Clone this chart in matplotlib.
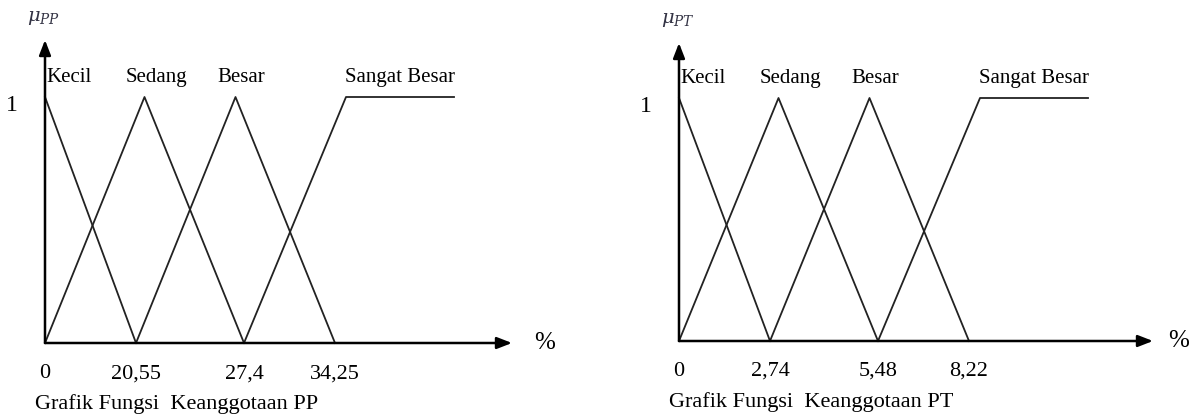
import matplotlib.pyplot as plt

plt.rcParams['font.family'] = ['Liberation Serif', 'DejaVu Serif']
plt.rcParams['mathtext.fontset'] = 'dejavuserif'

# schematic x positions of the tick marks (not to scale with the values)
tick_pos = [0.0, 0.91, 1.99, 2.90]
tick_pp = ["0", "20,55", "27,4", "34,25"]
tick_pt = ["0", "2,74", "5,48", "8,22"]

categories = ["Kecil", "Sedang", "Besar", "Sangat Besar"]

# membership break points (x position, degree)
kecil_x = [0.0, 0.91]
kecil_y = [1, 0]
sedang_x = [0.0, 0.995, 1.99]
sedang_y = [0, 1, 0]
besar_x = [0.91, 1.905, 2.90]
besar_y = [0, 1, 0]
sangat_x = [1.99, 3.01, 4.09]
sangat_y = [0, 1, 1]

# label positions above the curves
label_x = [0.01, 1.11, 1.96, 3.00]
label_ha = ["left", "center", "center", "left"]


def draw_panel(ax, ticks, mu, caption, xmax, ymax):
    ax.set_xlim(0, xmax)
    ax.set_ylim(0, ymax)
    ax.axis('off')

    arrow = dict(arrowstyle='-|>,head_length=0.9,head_width=0.35',
                 color='black', lw=1.8, shrinkA=0, shrinkB=0)
    ax.annotate('', xy=(xmax, 0), xytext=(0, 0), arrowprops=arrow,
                annotation_clip=False)
    ax.annotate('', xy=(0, ymax), xytext=(0, 0), arrowprops=arrow,
                annotation_clip=False)

    for xs, ys in [(kecil_x, kecil_y), (sedang_x, sedang_y),
                   (besar_x, besar_y), (sangat_x, sangat_y)]:
        ax.plot(xs, ys, color='#222222', lw=1.3, clip_on=False)

    for name, lx, ha in zip(categories, label_x, label_ha):
        ax.text(lx, 1.08, name, ha=ha, va='center', fontsize=15)

    for p, t in zip(tick_pos, ticks):
        ax.text(p, -0.125, t, ha='center', va='center', fontsize=16)

    ax.text(-0.33, 0.965, "1", ha='center', va='center', fontsize=17)
    ax.text(5.0, 0.0, "%", ha='center', va='center', fontsize=18)
    ax.text(-0.18, 1.32, mu, ha='left', va='center', fontsize=14,
            color='#333344')
    ax.text(-0.10, -0.25, caption, ha='left', va='center', fontsize=16)


fig = plt.figure(figsize=(12.02, 4.16), dpi=100)
W, H = 1202, 416

# left panel: origin (45, 343), arrow tip x 512, top y 40, one unit = 246 px
ax1 = fig.add_axes([45 / W, (H - 343) / H, 467 / W, 303 / H])
draw_panel(ax1, tick_pp, r'$\mu_{PP}$', "Grafik Fungsi  Keanggotaan PP",
           4.67, 303 / 246)

# right panel: origin (679, 341), arrow tip x 1153, top y 43, one unit = 243 px
ax2 = fig.add_axes([679 / W, (H - 341) / H, 474 / W, 298 / H])
draw_panel(ax2, tick_pt, r'$\mu_{PT}$', "Grafik Fungsi  Keanggotaan PT",
           4.74, 298 / 243)

fig.savefig('out.png', dpi=100)
